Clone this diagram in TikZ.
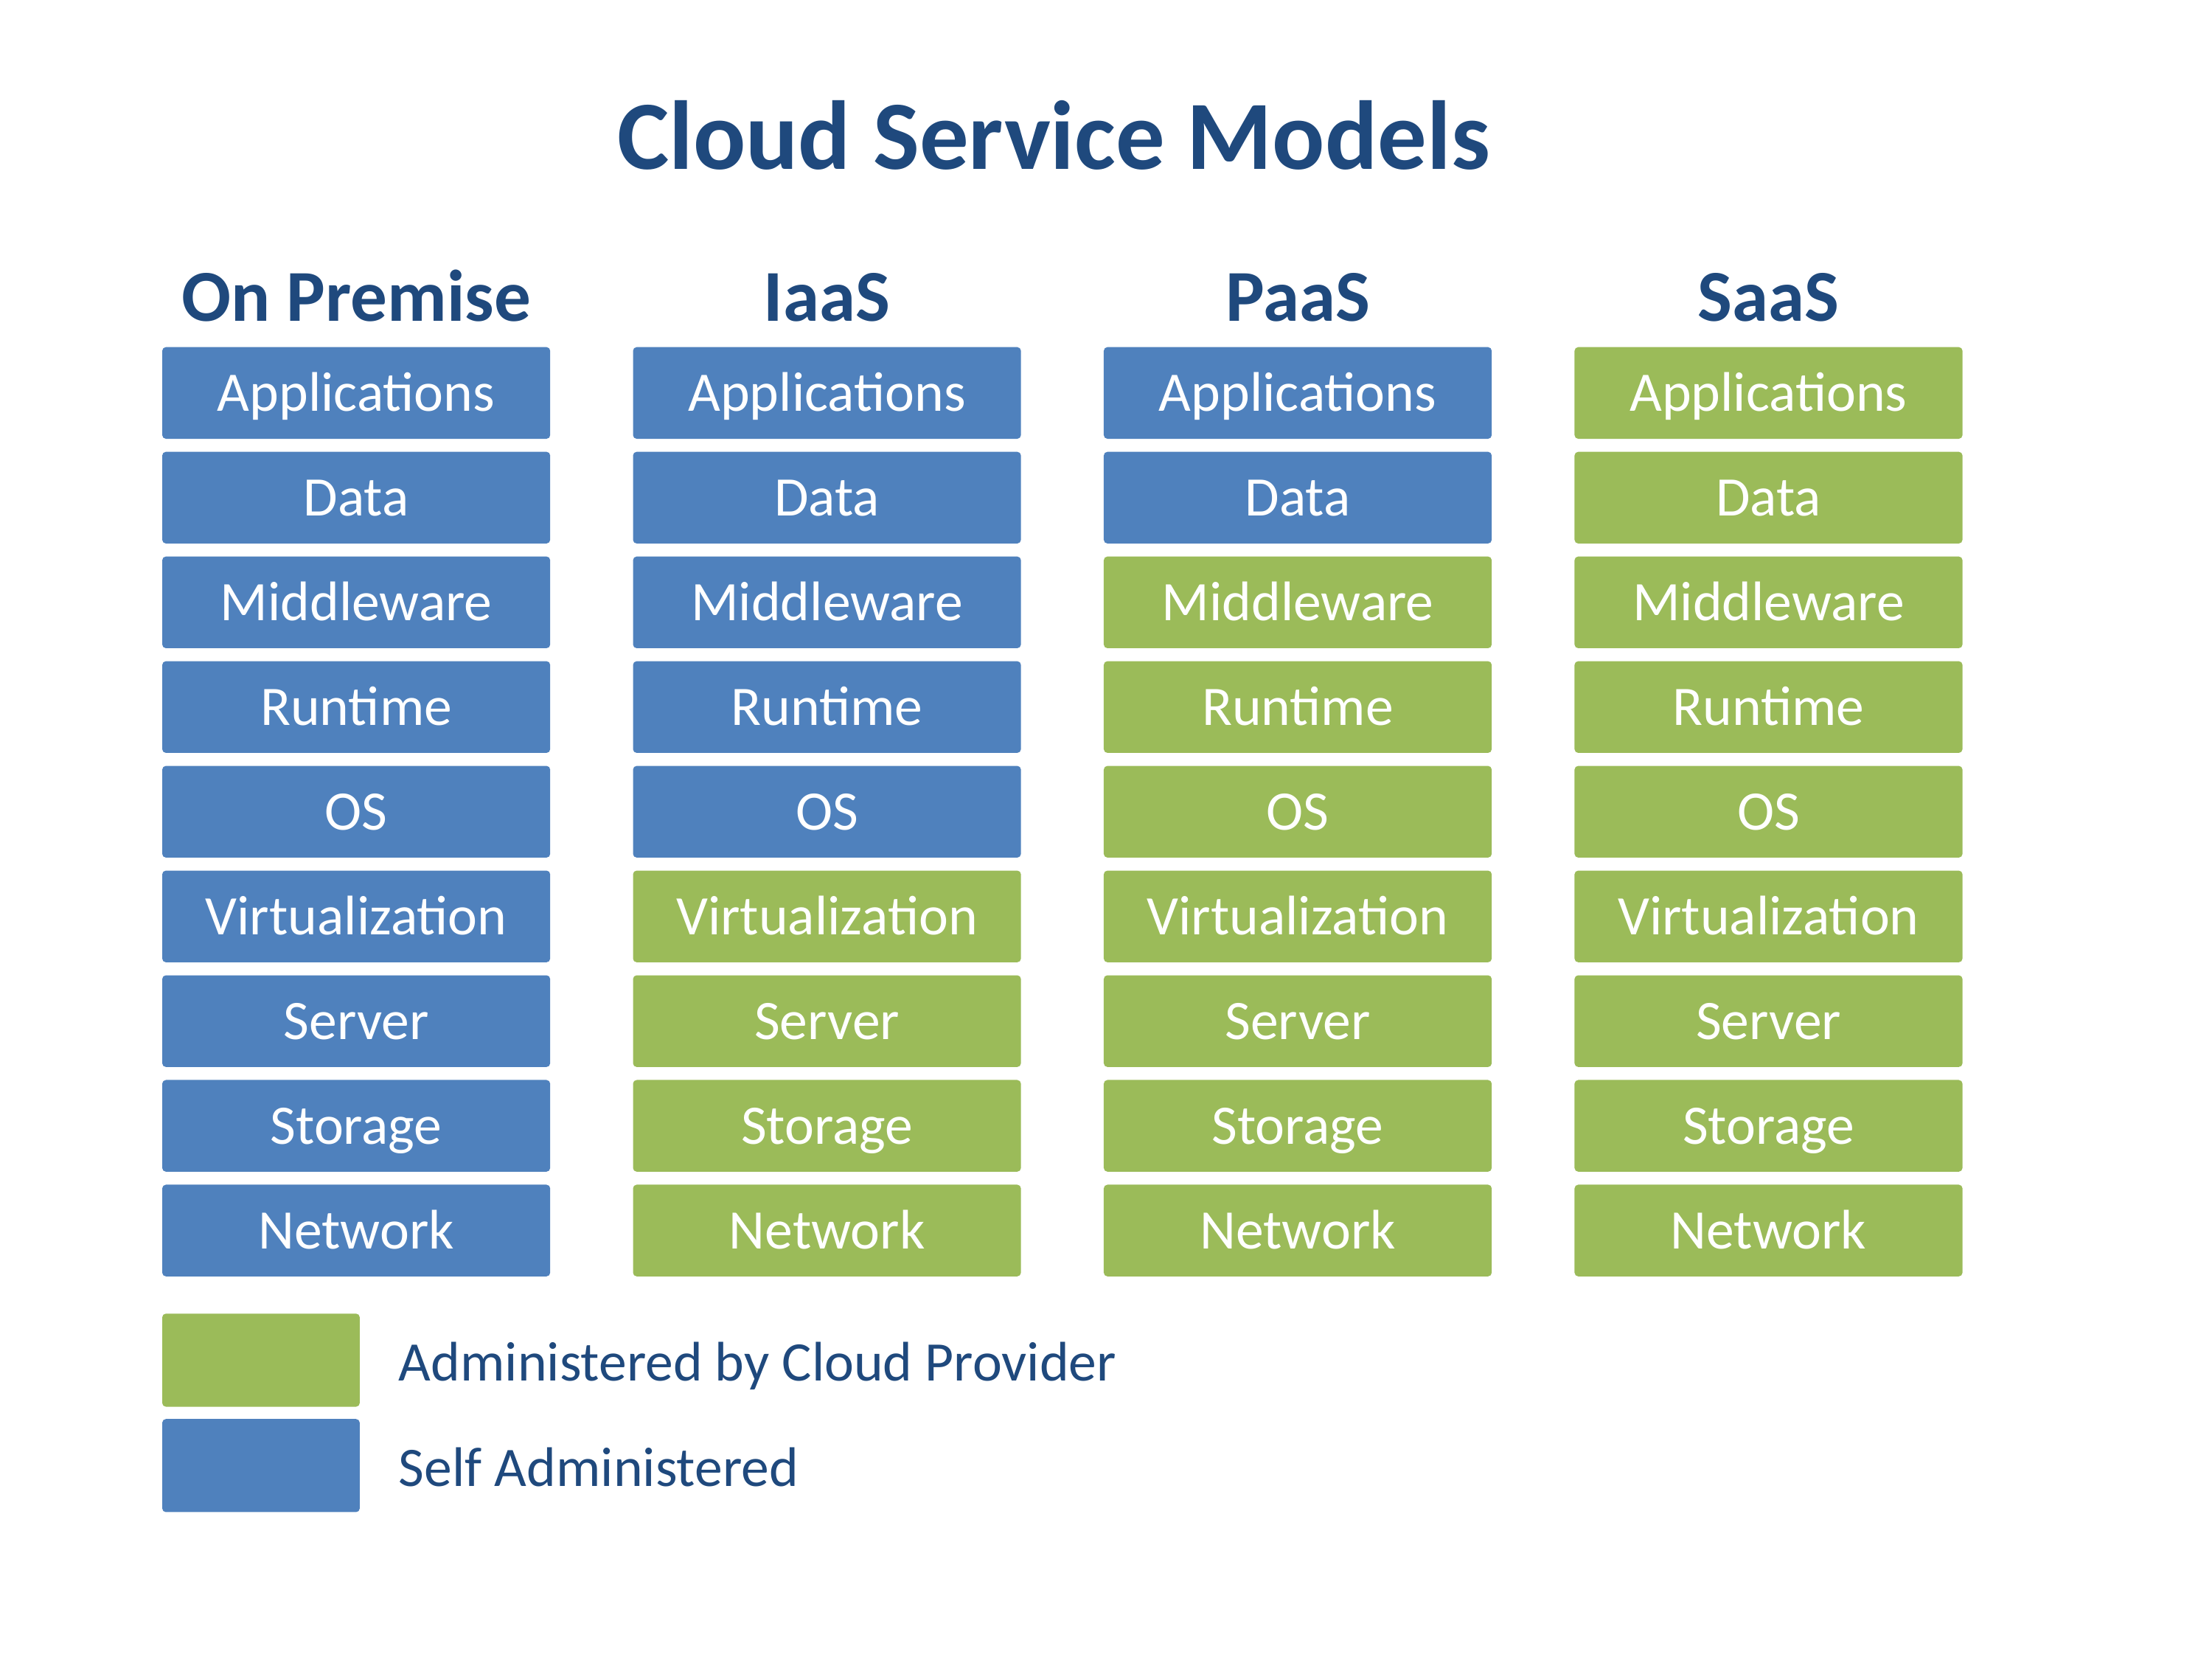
\documentclass[tikz,border=0pt]{standalone}
\usepackage{fontspec}
\setmainfont{Carlito}
\usetikzlibrary{positioning}
\usetikzlibrary{calc}
\definecolor{selfblue}{HTML}{4F81BD}
\definecolor{provgreen}{HTML}{9BBB59}
\definecolor{titleblue}{HTML}{1F497D}
\begin{document}
\begin{tikzpicture}[layer/.style={rectangle,rounded corners=1.5pt,minimum width=5.5cm,minimum height=1.3cm,inner sep=0pt,text=white,text height=14.5pt,text depth=0pt,font=\fontsize{22.5}{27}\selectfont},
	self/.style={layer,fill=selfblue}, prov/.style={layer,fill=provgreen},
	head/.style={text=titleblue,font=\fontsize{29.5}{35}\selectfont\bfseries,anchor=base},
	legtext/.style={text=titleblue,font=\fontsize{22.5}{27}\selectfont,text height=14.5pt,text depth=0pt,anchor=west,inner sep=0pt},
	node distance = .17cm and 1.16cm]
		\useasboundingbox (0,0) rectangle (31.36,-23.52);
		\node[text=titleblue,font=\fontsize{39.5}{47}\selectfont\bfseries,anchor=base] (title) at (14.94,-2.40) {Cloud Service Models};
		% on premise
		\node[self] (op1) at (5.05,-5.57) {Applications};
		\node[self] (op2)[below = of op1] {Data};
		\node[self] (op3)[below = of op2] {Middleware};
		\node[self] (op4)[below = of op3] {Runtime};
		\node[self] (op5)[below = of op4] {OS};
		\node[self] (op6)[below = of op5] {Virtualization};
		\node[self] (op7)[below = of op6] {Server};
		\node[self] (op8)[below = of op7] {Storage};
		\node[self] (op9)[below = of op8] {Network};
		% iaas
		\node[self] (ia1)[right = of op1] {Applications};
		\node[self] (ia2)[below = of ia1] {Data};
		\node[self] (ia3)[below = of ia2] {Middleware};
		\node[self] (ia4)[below = of ia3] {Runtime};
		\node[self] (ia5)[below = of ia4] {OS};
		\node[prov] (ia6)[below = of ia5] {Virtualization};
		\node[prov] (ia7)[below = of ia6] {Server};
		\node[prov] (ia8)[below = of ia7] {Storage};
		\node[prov] (ia9)[below = of ia8] {Network};
		% paas
		\node[self] (pa1)[right = of ia1] {Applications};
		\node[self] (pa2)[below = of pa1] {Data};
		\node[prov] (pa3)[below = of pa2] {Middleware};
		\node[prov] (pa4)[below = of pa3] {Runtime};
		\node[prov] (pa5)[below = of pa4] {OS};
		\node[prov] (pa6)[below = of pa5] {Virtualization};
		\node[prov] (pa7)[below = of pa6] {Server};
		\node[prov] (pa8)[below = of pa7] {Storage};
		\node[prov] (pa9)[below = of pa8] {Network};
		% saas
		\node[prov] (sa1)[right = of pa1] {Applications};
		\node[prov] (sa2)[below = of sa1] {Data};
		\node[prov] (sa3)[below = of sa2] {Middleware};
		\node[prov] (sa4)[below = of sa3] {Runtime};
		\node[prov] (sa5)[below = of sa4] {OS};
		\node[prov] (sa6)[below = of sa5] {Virtualization};
		\node[prov] (sa7)[below = of sa6] {Server};
		\node[prov] (sa8)[below = of sa7] {Storage};
		\node[prov] (sa9)[below = of sa8] {Network};
		% headings
		\node[head] (ophead) at ($(op1.north)+(0,.36)$) {On Premise};
		\node[head] (iahead) at ($(ia1.north)+(0,.36)$) {IaaS};
		\node[head] (pahead) at ($(pa1.north)+(0,.36)$) {PaaS};
		\node[head] (sahead) at ($(sa1.north)+(0,.36)$) {SaaS};
		% legend
		\node[prov,minimum width=2.8cm,minimum height=1.32cm] (legprov) at (3.70,-19.28) {};
		\node[self,minimum width=2.8cm,minimum height=1.32cm] (legself)[below = .16cm of legprov] {};
		\node[legtext] (legprovtext) at ($(legprov.east)+(.54,-.04)$) {Administered by Cloud Provider};
		\node[legtext] (legselftext) at ($(legself.east)+(.54,-.04)$) {Self Administered};
	\end{tikzpicture}
\end{document}
